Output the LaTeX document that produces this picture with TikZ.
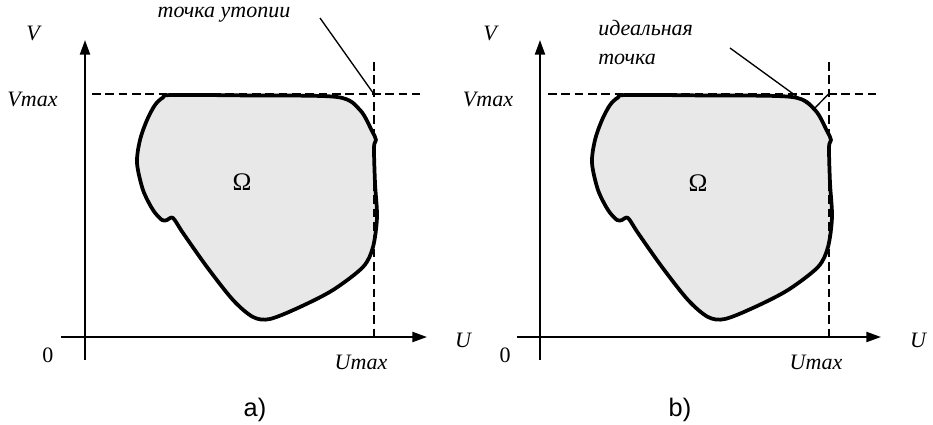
\documentclass[tikz,border=0pt]{standalone}
\usepackage{fontspec}
\setmainfont{Liberation Serif}
\newfontfamily\labsans{Liberation Sans}
\usetikzlibrary{arrows.meta}
\begin{document}
\begin{tikzpicture}[x=0.75pt,y=-0.75pt,
  lab/.style={font=\fontsize{16.5}{19}\selectfont\itshape, inner sep=0pt},
  num/.style={font=\fontsize{16.5}{19}\selectfont, inner sep=0pt},
  omega/.style={font=\fontsize{19}{22}\selectfont, inner sep=0pt},
  captext/.style={font=\labsans\fontsize{19}{22}\selectfont, inner sep=0pt},
  axis/.style={line width=1.6pt, -{Triangle[length=11pt,width=7.5pt]}},
  guide/.style={line width=1.5pt, dash pattern=on 6.5pt off 3.5pt},
  leader/.style={line width=1pt},
  region/.style={line width=2.8pt, fill=black!9, line join=round},
  blob/.pic={
    \draw[region] plot[smooth cycle, tension=0.5] coordinates {
      (172,95) (250,95.5) (337,97) (360,110) (372,131) (376,140) (374,147)
      (375,183) (377,217) (373,247) (363,267) (333,290) (300,307) (270,319)
      (253,317) (233,300) (207,267) (183,233) (173,218) (167,220) (162,220)
      (153,210) (143,190) (137,163) (140,140) (147,120) (155,105) (163,97.5)};
  }]
\useasboundingbox (0,0) rectangle (933,425);

% ---------- panel a ----------
\pic at (0,0) {blob};
\node[omega] (omegaA) at (242,182) {Ω};
\coordinate (aYb) at (85,360);
\coordinate (aYt) at (85,40);
\coordinate (aXl) at (61,337);
\coordinate (aXr) at (427,337);
\coordinate (aHl) at (92,93.5);
\coordinate (aHr) at (420,93.5);
\coordinate (aVt) at (373.5,62);
\coordinate (aVb) at (373.5,337);
\coordinate (aUtop) at (373.5,93.5);
\draw[guide] (aHl) -- (aHr);
\draw[guide] (aVt) -- (aVb);
\draw[axis] (aYb) -- (aYt);
\draw[axis] (aXl) -- (aXr);
\node[lab] (aV) at (33,33) {V};
\node[lab] (aVmax) at (32.5,99) {Vmax};
\node[num] (a0) at (48,355) {0};
\node[lab] (aU) at (463,340) {U};
\node[lab] (aUmax) at (361,362) {Umax};
\node[lab] (aUtopLab) at (224,15) {точка утопии};
\coordinate (aLeadStart) at (320,18);
\draw[leader] (aLeadStart) -- (aUtop);
\node[captext] (capA) at (255,410) {a)};

% ---------- panel b ----------
\pic at (455,0) {blob};
\node[omega] (omegaB) at (698,183) {Ω};
\coordinate (bYb) at (540,360);
\coordinate (bYt) at (540,40);
\coordinate (bXl) at (517,337);
\coordinate (bXr) at (881,337);
\coordinate (bHl) at (548,93.5);
\coordinate (bHr) at (876,93.5);
\coordinate (bVt) at (829,62);
\coordinate (bVb) at (829,337);
\coordinate (bUtop) at (829,93.5);
\coordinate (bIdeal) at (814,109);
\draw[guide] (bHl) -- (bHr);
\draw[guide] (bVt) -- (bVb);
\draw[axis] (bYb) -- (bYt);
\draw[axis] (bXl) -- (bXr);
\node[lab] (bV) at (490,33) {V};
\node[lab] (bVmax) at (488,99) {Vmax};
\node[num] (b0) at (505,355) {0};
\node[lab] (bU) at (918,340) {U};
\node[lab] (bUmax) at (816,362) {Umax};
\node[lab, align=left, anchor=north west, font=\fontsize{16.5}{21.5}\selectfont\itshape] (bIdealLab) at (598,20) {идеальная\\точка};
\coordinate (bLeadStart) at (730,48);
\draw[leader] (bLeadStart) -- (bIdeal);
\draw[leader] (bIdeal) -- (bUtop);
\node[captext] (capB) at (680,410) {b)};
\end{tikzpicture}
\end{document}
